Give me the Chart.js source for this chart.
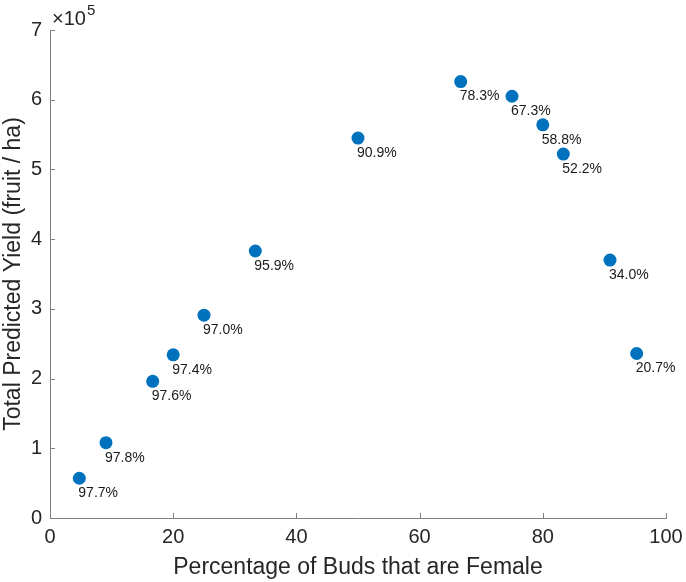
<!DOCTYPE html>
<html>
<head>
<meta charset="utf-8">
<script src="https://cdn.jsdelivr.net/npm/chart.js"></script>
<style>
  html, body { margin: 0; padding: 0; background: #fff; }
  #wrap { width: 686px; height: 582px; }
</style>
</head>
<body>
<div id="wrap"><canvas id="yieldChart" width="686" height="582"></canvas></div>
<script>
  // Data
  const femalePct = [4.76, 9.09, 16.67, 20, 25, 33.33, 50, 66.67, 75, 80, 83.33, 90.91, 95.24];
  const totalYield = [57000, 108000, 196000, 234000, 291000, 383000, 545000, 626000, 605000, 564000, 522000, 370000, 236000];
  const pointLabels = ['97.7%', '97.8%', '97.6%', '97.4%', '97.0%', '95.9%', '90.9%',
                       '78.3%', '67.3%', '58.8%', '52.2%', '34.0%', '20.7%'];
  const xTicks = [0, 20, 40, 60, 80, 100];
  const yTicks = [0, 1, 2, 3, 4, 5, 6, 7];
  const yExponent = 5;

  const FONT = '"Liberation Sans", Arial, Helvetica, sans-serif';
  const TEXT = '#262626';
  const AXIS = '#808080';

  // Inward tick marks, MATLAB style
  const innerTicks = {
    id: 'innerTicks',
    afterDraw(chart) {
      const ctx = chart.ctx;
      const area = chart.chartArea;
      const xs = chart.scales.x, ys = chart.scales.y;
      ctx.save();
      ctx.strokeStyle = AXIS;
      ctx.lineWidth = 1;
      ctx.beginPath();
      xTicks.forEach(v => {
        const px = Math.round(xs.getPixelForValue(v)) + 0.5;
        ctx.moveTo(px, area.bottom);
        ctx.lineTo(px, area.bottom - 5);
      });
      yTicks.forEach(v => {
        const py = Math.round(ys.getPixelForValue(v * Math.pow(10, yExponent))) + 0.5;
        ctx.moveTo(area.left, py);
        ctx.lineTo(area.left + 5, py);
      });
      ctx.stroke();

      // exponent label
      ctx.fillStyle = TEXT;
      ctx.textBaseline = 'alphabetic';
      ctx.textAlign = 'left';
      ctx.font = '20px ' + FONT;
      ctx.fillText('\u00d710', area.left + 2, area.top - 5);
      const w = ctx.measureText('\u00d710').width;
      ctx.font = '15px ' + FONT;
      ctx.fillText(String(yExponent), area.left + 3 + w, area.top - 15);
      ctx.restore();
    }
  };

  // Percent labels beside each point
  const valueLabels = {
    id: 'valueLabels',
    afterDatasetsDraw(chart) {
      const ctx = chart.ctx;
      const meta = chart.getDatasetMeta(0);
      ctx.save();
      ctx.font = '14px ' + FONT;
      ctx.fillStyle = '#1a1a1a';
      ctx.textAlign = 'left';
      ctx.textBaseline = 'middle';
      meta.data.forEach((pt, i) => {
        ctx.fillText(pointLabels[i], pt.x - 1, pt.y + 15);
      });
      ctx.restore();
    }
  };

  const ctx = document.getElementById('yieldChart').getContext('2d');
  const chart = new Chart(ctx, {
    type: 'scatter',
    data: {
      datasets: [{
        data: femalePct.map((x, i) => ({ x: x, y: totalYield[i] })),
        backgroundColor: '#0072BD',
        borderColor: '#0072BD',
        borderWidth: 0,
        pointRadius: 6.5,
        pointHoverRadius: 6.5
      }]
    },
    options: {
      responsive: false,
      animation: false,
      layout: { padding: { top: 30, right: 20, left: 0, bottom: 0 } },
      plugins: {
        legend: { display: false },
        tooltip: { enabled: false }
      },
      scales: {
        x: {
          type: 'linear',
          min: 0,
          max: 100,
          afterFit(scale) {
            scale.height = 64;
            scale.paddingLeft = 0;
            scale.paddingRight = 0;
          },
          afterBuildTicks(scale) { scale.ticks = xTicks.map(v => ({ value: v })); },
          grid: { display: false, drawTicks: false },
          border: { display: true, color: AXIS, width: 1 },
          ticks: {
            padding: 7,
            color: TEXT,
            font: { family: FONT, size: 20 },
            maxRotation: 0
          },
          title: {
            display: true,
            text: 'Percentage of Buds that are Female',
            color: TEXT,
            font: { family: FONT, size: 23 },
            padding: { top: 0, bottom: 1 }
          }
        },
        y: {
          type: 'linear',
          min: 0,
          max: 7 * Math.pow(10, yExponent),
          afterFit(scale) {
            scale.width = 50;
            scale.paddingTop = 0;
            scale.paddingBottom = 0;
          },
          afterBuildTicks(scale) {
            scale.ticks = yTicks.map(v => ({ value: v * Math.pow(10, yExponent) }));
          },
          grid: { display: false, drawTicks: false },
          border: { display: true, color: AXIS, width: 1 },
          ticks: {
            padding: 8,
            color: TEXT,
            font: { family: FONT, size: 20 },
            callback: v => String(Math.round(v / Math.pow(10, yExponent)))
          },
          title: {
            display: true,
            text: 'Total Predicted Yield (fruit / ha)',
            color: TEXT,
            font: { family: FONT, size: 23 },
            padding: { top: 0, bottom: 0 }
          }
        }
      }
    },
    plugins: [innerTicks, valueLabels]
  });
</script>
</body>
</html>
